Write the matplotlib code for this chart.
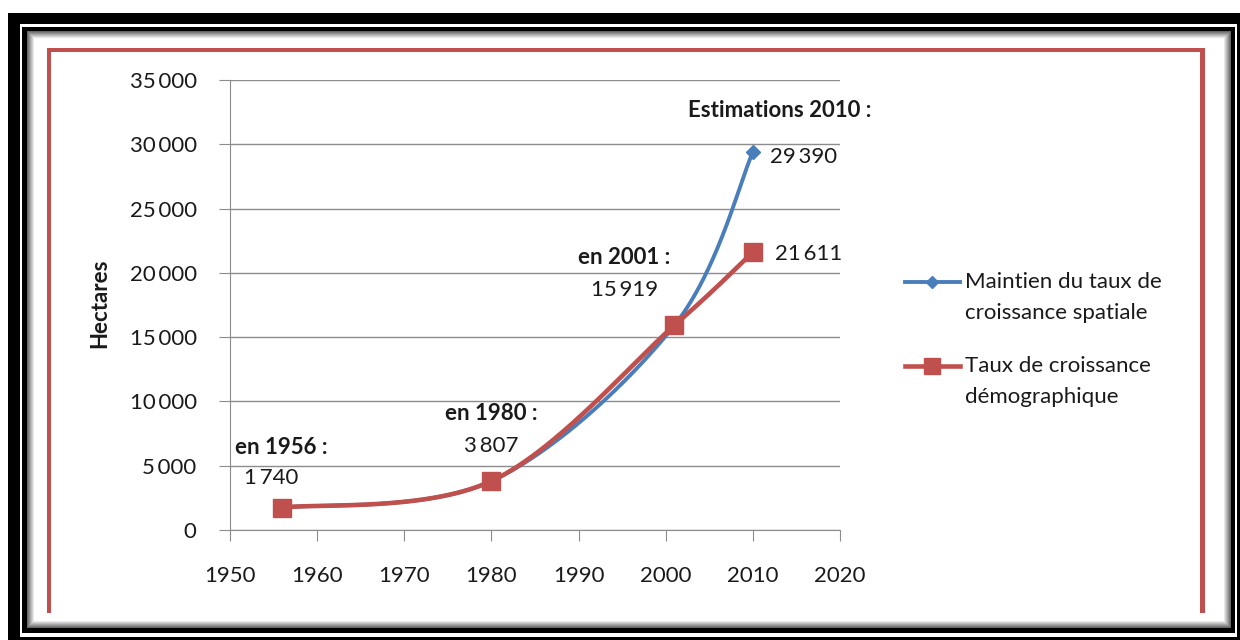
import numpy as np
import matplotlib
matplotlib.use("Agg")
import matplotlib.pyplot as plt
from matplotlib.patches import Rectangle
from matplotlib.lines import Line2D

plt.rcParams['font.family'] = ['Lato', 'DejaVu Sans']

# Data
years = [1956, 1980, 2001, 2010]
spatial = [1740, 3807, 15919, 29390]      # Maintien du taux de croissance spatiale
demo = [1740, 3807, 15919, 21611]         # Taux de croissance démographique
year_ticks = [1950, 1960, 1970, 1980, 1990, 2000, 2010, 2020]
ha_ticks = [0, 5000, 10000, 15000, 20000, 25000, 30000, 35000]
label_spatial = ["Maintien du taux de", "croissance spatiale"]
label_demo = ["Taux de croissance", "démographique"]

BLUE = "#4a7ebb"
RED = "#c0504d"
W, H = 1240, 640


def smooth(xs, ys, n=60):
    # Excel-like smoothed line (Catmull-Rom as cubic Bezier)
    p = np.column_stack([xs, ys]).astype(float)
    p = np.vstack([p[0], p, p[-1]])
    out = []
    t = np.linspace(0, 1, n)[:, None]
    for i in range(1, len(p) - 2):
        b0 = p[i]
        b1 = p[i] + (p[i + 1] - p[i - 1]) / 6
        b2 = p[i + 1] - (p[i + 2] - p[i]) / 6
        b3 = p[i + 1]
        seg = ((1 - t) ** 3) * b0 + 3 * ((1 - t) ** 2) * t * b1 + 3 * (1 - t) * t ** 2 * b2 + t ** 3 * b3
        out.append(seg)
    out = np.vstack(out)
    return out[:, 0], out[:, 1]


def fmt(v):
    return f"{v:,}".replace(",", "\u2009")


fig = plt.figure(figsize=(W / 100, H / 100), dpi=100)

# frame drawn in a background axes in pixel coordinates
bg = fig.add_axes([0, 0, 1, 1])
bg.set_xlim(0, W)
bg.set_ylim(H, 0)
bg.axis("off")


def box(x0, y0, x1, y1, color):
    bg.add_patch(Rectangle((x0, y0), x1 - x0, y1 - y0, color=color, lw=0))


box(8, 13, W, H, "black")
box(20, 24, 1237, 637, "white")
box(22, 27, 1235, 633, "black")
for k in range(8):
    g = 0.4 + 0.085 * k
    box(27 + k, 31 + k, 1231 - k, 628 - k, (min(g, 1),) * 3)
box(35, 39, 1223, 620, "white")
box(47, 48, 51, 613, RED)
box(47, 48, 1205, 52, RED)
box(1200, 48, 1205, 613, RED)

ax = fig.add_axes([230 / W, 1 - 530 / H, 610 / W, 450 / H])
ax.set_facecolor("none")

xs, ys = smooth(years, spatial)
ax.plot(xs, ys, color=BLUE, lw=2.8, zorder=3)
ax.plot(years[-1:], spatial[-1:], "D", color=BLUE, ms=7.5, zorder=3)
xs, ys = smooth(years, demo)
ax.plot(xs, ys, color=RED, lw=3.3, zorder=4)
ax.plot(years, demo, "s", color=RED, ms=13, zorder=4)

ax.set_xlim(1950, 2020)
ax.set_ylim(0, 35000)
ax.set_xticks(year_ticks)
ax.set_yticks(ha_ticks)
ax.set_yticklabels([fmt(v) for v in ha_ticks])
ax.grid(axis="y", color="#8c8c8c", lw=1)
ax.set_axisbelow(True)
for s in ["top", "right"]:
    ax.spines[s].set_visible(False)
for s in ["left", "bottom"]:
    ax.spines[s].set_color("#8c8c8c")
ax.tick_params(axis="both", colors="#8c8c8c", labelcolor="#1a1a1a", labelsize=16, length=8)
ax.tick_params(axis="y", pad=16)
ax.tick_params(axis="x", pad=18)

fig.text(100 / W, 1 - 303 / H, "Hectares", rotation=90, ha="center", va="center",
         fontsize=16, fontweight="bold", color="#1a1a1a")

# annotations
def note(x, y, s, dx, dy, bold=False, ha="center"):
    ax.annotate(s, (x, y), xytext=(dx, dy), textcoords="offset pixels", ha=ha, va="center",
                fontsize=16, fontweight="bold" if bold else "normal", color="#1a1a1a")


note(years[0], demo[0], "en 1956 :", -1, 60, bold=True)
note(years[0], demo[0], fmt(demo[0]), -11, 30)
note(years[1], demo[1], "en 1980 :", 0, 68, bold=True)
note(years[1], demo[1], fmt(demo[1]), 0, 35)
note(years[2], demo[2], "en 2001 :", -50, 68, bold=True)
note(years[2], demo[2], fmt(demo[2]), -50, 35)
note(years[3], spatial[3], "Estimations 2010 :", 27, 42, bold=True)
note(years[3], spatial[3], fmt(spatial[3]), 17, -5, ha="left")
note(years[3], demo[3], fmt(demo[3]), 22, -2, ha="left")

# legend built by hand so the marker sits on the first text line
for lab, color, mk, ms, lw, yy in [(label_spatial, BLUE, "D", 6.5, 2.8, 282),
                                   (label_demo, RED, "s", 11, 3.3, 366)]:
    y = 1 - yy / H
    fig.add_artist(Line2D([905 / W, 932 / W, 960 / W], [y, y, y], transform=fig.transFigure,
                          color=color, lw=lw, marker=mk, ms=ms, markevery=[1]))
    fig.text(965 / W, y, lab[0], ha="left", va="center", fontsize=16, color="#1a1a1a")
    fig.text(965 / W, y - 31 / H, lab[1], ha="left", va="center", fontsize=16, color="#1a1a1a")

fig.savefig("out.png", dpi=100)
